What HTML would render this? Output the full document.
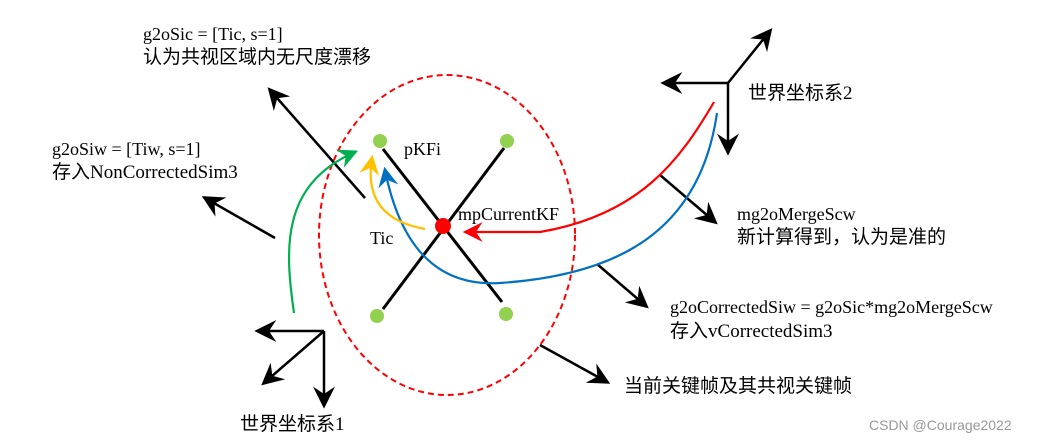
<!DOCTYPE html>
<html><head><meta charset="utf-8"><style>
html,body{margin:0;padding:0;background:#fff}
svg{display:block}
text{font-family:"Liberation Serif","Noto Serif CJK SC",serif;font-size:18px;fill:#000}
.c{font-family:"Liberation Serif","Noto Sans CJK SC",sans-serif;font-size:19px}
</style></head><body>
<svg width="1048" height="444" viewBox="0 0 1048 444" xmlns="http://www.w3.org/2000/svg">
<defs>
<marker id="ak" viewBox="0 0 12 12" refX="10" refY="6" markerWidth="9" markerHeight="9" markerUnits="userSpaceOnUse" orient="auto"><path d="M0,0 L12,6 L0,12 L4,6 Z" fill="#000"/></marker>
<marker id="bk" viewBox="0 0 12 12" refX="10" refY="6" markerWidth="22" markerHeight="22" markerUnits="userSpaceOnUse" orient="auto"><path d="M0,0 L12,6 L0,12 L4,6 Z" fill="#000"/></marker>
<marker id="ar" viewBox="0 0 12 12" refX="10" refY="6" markerWidth="20" markerHeight="20" markerUnits="userSpaceOnUse" orient="auto"><path d="M0,0 L12,6 L0,12 L4,6 Z" fill="#f00"/></marker>
<marker id="ab" viewBox="0 0 12 12" refX="10" refY="6" markerWidth="20" markerHeight="20" markerUnits="userSpaceOnUse" orient="auto"><path d="M0,0 L12,6 L0,12 L4,6 Z" fill="#0070c0"/></marker>
<marker id="ag" viewBox="0 0 12 12" refX="10" refY="6" markerWidth="20" markerHeight="20" markerUnits="userSpaceOnUse" orient="auto"><path d="M0,0 L12,6 L0,12 L4,6 Z" fill="#00b050"/></marker>
<marker id="ay" viewBox="0 0 12 12" refX="10" refY="6" markerWidth="20" markerHeight="20" markerUnits="userSpaceOnUse" orient="auto"><path d="M0,0 L12,6 L0,12 L4,6 Z" fill="#ffc000"/></marker>
</defs>
<ellipse cx="447" cy="235" rx="128" ry="160" fill="none" stroke="#f00" stroke-width="2" stroke-dasharray="6,4"/>
<g stroke="#000" stroke-width="3" fill="none">
<line x1="383" y1="149" x2="502" y2="302"/>
<line x1="504" y1="148" x2="383" y2="309"/>
</g>
<g stroke="#000" stroke-width="2.5" fill="none">
<line x1="365" y1="198" x2="270" y2="90" marker-end="url(#bk)"/>
<line x1="275" y1="238" x2="205" y2="198" marker-end="url(#bk)"/>
<line x1="728" y1="83" x2="664" y2="83" marker-end="url(#bk)"/>
<line x1="728" y1="83" x2="728" y2="152" marker-end="url(#bk)"/>
<line x1="728" y1="83" x2="770" y2="31" marker-end="url(#bk)"/>
<line x1="324" y1="331" x2="258" y2="331" marker-end="url(#bk)"/>
<line x1="324" y1="331" x2="324" y2="405" marker-end="url(#bk)"/>
<line x1="324" y1="331" x2="264" y2="383" marker-end="url(#bk)"/>
<line x1="660" y1="175" x2="715" y2="222" marker-end="url(#bk)"/>
<line x1="597" y1="264" x2="646" y2="306" marker-end="url(#bk)"/>
<line x1="540" y1="345" x2="607" y2="382" marker-end="url(#bk)"/>
</g>
<path d="M714,102 C680,160 640,215 540,232 L466,232" fill="none" stroke="#f00" stroke-width="2.2" marker-end="url(#ar)"/>
<path d="M717,113 C700,230 620,275 500,283 C420,288 395,220 385,170" fill="none" stroke="#0070c0" stroke-width="2.2" marker-end="url(#ab)"/>
<path d="M294,313 C285,250 280,185 355,152" fill="none" stroke="#00b050" stroke-width="2.2" marker-end="url(#ag)"/>
<path d="M425,229 C385,222 365,200 372,158" fill="none" stroke="#ffc000" stroke-width="2.2" marker-end="url(#ay)"/>
<g fill="#92d050">
<circle cx="380" cy="141" r="7"/><circle cx="507" cy="141" r="7"/>
<circle cx="377" cy="316" r="7"/><circle cx="506" cy="314" r="7"/>
</g>
<circle cx="443" cy="226" r="8" fill="#f00"/>
<text x="143" y="40">g2oSic = [Tic, s=1]</text>
<text class="c" x="143" y="63">认为共视区域内无尺度漂移</text>
<text x="52" y="155">g2oSiw = [Tiw, s=1]</text>
<text class="c" x="52" y="178">存入<tspan font-family="Liberation Serif">NonCorrectedSim3</tspan></text>
<text x="404" y="155">pKFi</text>
<text x="458" y="220">mpCurrentKF</text>
<text x="370" y="244">Tic</text>
<text class="c" x="748" y="99">世界坐标系2</text>
<text x="737" y="220">mg2oMergeScw</text>
<text class="c" x="737" y="243">新计算得到，认为是准的</text>
<text x="670" y="313">g2oCorrectedSiw = g2oSic*mg2oMergeScw</text>
<text class="c" x="670" y="337">存入<tspan font-family="Liberation Serif">vCorrectedSim3</tspan></text>
<text class="c" x="624" y="392">当前关键帧及其共视关键帧</text>
<text class="c" x="240" y="430">世界坐标系<tspan font-family="Liberation Serif">1</tspan></text>
<text x="869" y="430" style="font-family:'Liberation Sans',sans-serif;font-size:14px;fill:#999">CSDN @Courage2022</text>
</svg>
</body></html>
